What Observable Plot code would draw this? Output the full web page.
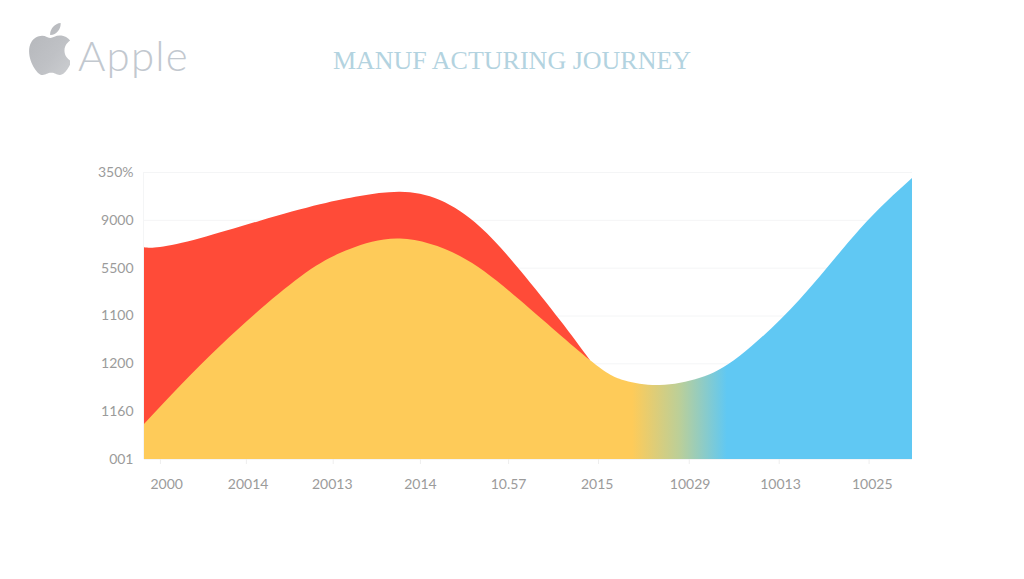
<!DOCTYPE html>
<html>
<head>
<meta charset="utf-8">
<script src="https://cdn.jsdelivr.net/npm/d3@7"></script>
<script src="https://cdn.jsdelivr.net/npm/@observablehq/plot@0.6"></script>
<style>
  html, body { margin: 0; padding: 0; background: #fff; overflow: hidden; }
  #header { position: relative; width: 1024px; height: 130px; }
  #logo { position: absolute; left: 29px; top: 23px; width: 41px; height: 52px; }
  #brand { position: absolute; left: 78px; top: 30px; font: 300 42px/50px Lato, sans-serif; color: #c2c8cf; letter-spacing: 1.2px; white-space: nowrap; }
  #title { position: absolute; left: 0; width: 1024px; top: 45px; text-align: center; font: 400 26px/32px "Liberation Serif", serif; color: #b3d3e0; white-space: pre; }
  #chart svg { display: block; }
</style>
</head>
<body>
<div id="header">
  <svg id="logo" viewBox="2.2 0 18.9 24">
    <defs><linearGradient id="logoShade" x1="0" y1="0" x2="1" y2="1">
      <stop offset="0" stop-color="#b4b6ba"/><stop offset="0.6" stop-color="#bfc1c5"/><stop offset="1" stop-color="#ccced1"/>
    </linearGradient></defs>
    <path fill="url(#logoShade)" d="M12.152 6.896c-.948 0-2.415-1.078-3.96-1.04-2.04.027-3.91 1.183-4.961 3.014-2.117 3.675-.546 9.103 1.519 12.09 1.013 1.454 2.208 3.09 3.792 3.039 1.52-.065 2.09-.987 3.935-.987 1.831 0 2.35.987 3.96.948 1.637-.026 2.676-1.48 3.676-2.948 1.156-1.688 1.636-3.325 1.662-3.415-.039-.013-3.182-1.221-3.22-4.857-.026-3.04 2.48-4.494 2.597-4.559-1.429-2.09-3.623-2.324-4.39-2.376-2-.156-3.675 1.09-4.61 1.09zM15.53 3.83c.843-1.012 1.4-2.427 1.245-3.83-1.207.052-2.662.805-3.532 1.818-.78.896-1.454 2.338-1.273 3.714 1.338.104 2.715-.688 3.559-1.701"/>
  </svg>
  <div id="brand">Apple</div>
  <div id="title">MANUF ACTURING JOURNEY</div>
</div>
<div id="chart"></div>
<script>
// Category labels
const xLabels = ["2000", "20014", "20013", "2014", "10.57", "2015", "10029", "10013", "10025"];
const yLabels = ["001", "1160", "1200", "1100", "5500", "9000", "350%"];

// Axis positions, in axis steps
const xTickSteps = [0, 0.97, 1.95, 2.935, 3.93, 4.945, 5.97, 6.985, 8];
const xLabelSteps = [0.07, 0.99, 1.94, 2.935, 3.93, 4.93, 5.98, 7, 8.035];
const yTickSteps = [0, 1, 2, 3, 4, 5, 6];

// Red series
const redX = [-0.18, 0, 0.451, 1.129, 1.806, 2.257, 2.709, 3.16, 3.612, 4.063, 4.515, 4.853];
const redY = [4.426, 4.432, 4.614, 4.982, 5.325, 5.499, 5.589, 5.415, 4.857, 3.952, 2.906, 2.07];

// Yellow-to-blue series
const mainX = [-0.18, 0.677, 1.58, 2.144, 2.709, 3.386, 4.063, 4.853, 5.248, 5.643, 6.095, 6.546, 7.223, 7.901, 8.49];
const mainY = [0.732, 2.363, 3.805, 4.391, 4.61, 4.244, 3.324, 2.07, 1.641, 1.547, 1.7, 2.16, 3.34, 4.809, 5.875];

// Where the fill turns from yellow to blue
const blendSteps = [5.33, 5.86, 6.4];
const blendColors = ["#fecb59", "#bccf98", "#60c8f3"];

const red = redX.map((x, i) => ({x, y: redY[i]}));
const main = mainX.map((x, i) => ({x, y: mainY[i]}));

const blendDefs = (index, {x}) => {
  const first = blendSteps[0], last = blendSteps[blendSteps.length - 1];
  const g = d3.create("svg:linearGradient")
    .attr("id", "blend")
    .attr("gradientUnits", "userSpaceOnUse")
    .attr("x1", x(first)).attr("x2", x(last))
    .attr("y1", 0).attr("y2", 0);
  blendSteps.forEach((s, i) => g.append("stop")
    .attr("offset", (s - first) / (last - first))
    .attr("stop-color", blendColors[i]));
  return g.node();
};

const chart = Plot.plot({
  width: 1024,
  height: 449,
  marginLeft: 144,
  marginRight: 112,
  marginTop: 42,
  marginBottom: 120,
  style: {background: "transparent", fontFamily: "Lato, sans-serif", fontSize: "14px"},
  x: {domain: [-0.18, 8.49], axis: null},
  y: {domain: [0, 6], axis: null},
  marks: [
    Plot.gridY(yTickSteps, {stroke: "#f4f5f6", strokeOpacity: 1}),
    Plot.ruleX([-0.18], {stroke: "#f4f5f6", dx: -1}),
    blendDefs,
    Plot.areaY(red, {x: "x", y: "y", fill: "#ff4b38", curve: "natural"}),
    Plot.areaY(main, {x: "x", y: "y", fill: "url(#blend)", curve: "natural"}),
    Plot.axisY({ticks: yTickSteps, tickSize: 0, tickPadding: 11, color: "#9b9b9b",
      tickFormat: d => yLabels[d], label: null}),
    Plot.axisX({ticks: xTickSteps, tickSize: 5, color: "#eeeeee", tickFormat: () => "", label: null}),
    Plot.axisX({ticks: xLabelSteps, tickSize: 0, tickPadding: 20, color: "#9b9b9b",
      tickFormat: d => xLabels[xLabelSteps.indexOf(d)], label: null})
  ]
});
document.getElementById("chart").appendChild(chart);
</script>
</body>
</html>
